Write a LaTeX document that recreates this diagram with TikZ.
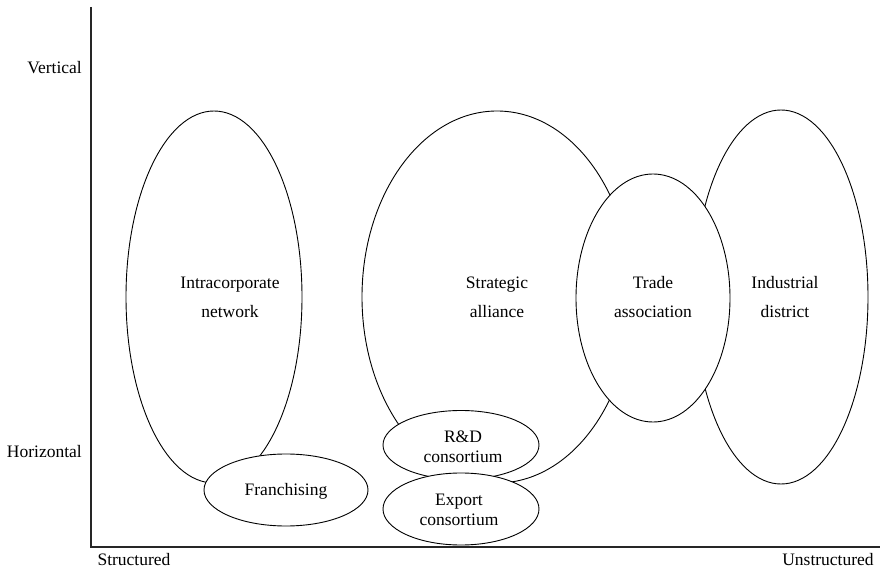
\documentclass[tikz,border=0pt]{standalone}
\usepackage{fontspec}
\setmainfont{Liberation Serif}
\usetikzlibrary{shapes.geometric}
\begin{document}
\begin{tikzpicture}[x=1pt,y=-1pt,
  region/.style={ellipse,draw=black,fill=white,line width=0.9pt,inner sep=0pt},
  lbl/.style={font=\fontsize{17.5}{29}\selectfont,align=center,inner sep=0pt},
  slbl/.style={font=\fontsize{17.5}{20.5}\selectfont,align=center,inner sep=0pt},
  axis/.style={draw=black!85,line width=1.1pt}]
\useasboundingbox (0,0) rectangle (886,569);

% axes
\coordinate (top) at (91,7);
\coordinate (origin) at (91,547);
\coordinate (right) at (880,547);
\draw[axis] (top) -- (origin) -- (right);

% axis labels
\node[lbl,anchor=east] (vert) at (82,68) {Vertical};
\node[lbl,anchor=east] (horiz) at (82,452) {Horizontal};
\node[lbl] (struct) at (134,560) {Structured};
\node[lbl] (unstruct) at (828,560) {Unstructured};

% large regions
\node[region,minimum width=176pt,minimum height=372pt] (intra) at (214,297) {};
\node[region,minimum width=270pt,minimum height=372pt] (strat) at (497,297) {};
\node[region,minimum width=174pt,minimum height=374pt] (indus) at (781,297) {};
\node[region,minimum width=154pt,minimum height=248pt] (trade) at (653,298) {};

% small regions
\node[region,minimum width=164pt,minimum height=72pt] (fran) at (286,490) {};
\node[region,minimum width=156pt,minimum height=69pt] (rnd) at (461,445) {};
\node[region,minimum width=156pt,minimum height=72pt] (export) at (461,509) {};

% region labels
\node[lbl] (intraT) at (230,297) {Intracorporate\\network};
\node[lbl] (stratT) at (497,297) {Strategic\\alliance};
\node[lbl] (tradeT) at (653,297) {Trade\\association};
\node[lbl] (indusT) at (785,297) {Industrial\\district};
\node[lbl] (franT) at (286,491) {Franchising};
\node[slbl] (rndT) at (463,447) {R\&D\\consortium};
\node[slbl] (exportT) at (459,510) {Export\\consortium};
\end{tikzpicture}
\end{document}
